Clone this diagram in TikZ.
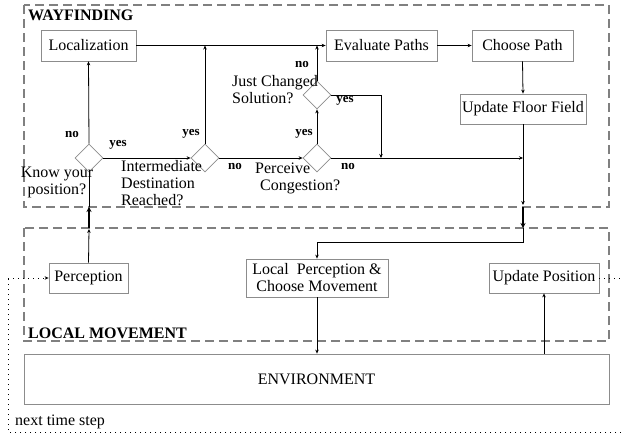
\documentclass[tikz,border=0pt]{standalone}
\usepackage{fontspec}
\setmainfont{Liberation Serif}
\usetikzlibrary{shapes.geometric,arrows.meta}
\begin{document}
\begin{tikzpicture}[x=1pt,y=-1pt,
  every node/.style={font=\fontsize{16}{17}\selectfont},
  box/.style={draw=black!45,line width=0.8pt,inner sep=0pt,align=center},
  dec/.style={diamond,draw=black!45,line width=0.8pt,inner sep=0pt,minimum width=28pt,minimum height=28pt},
  dashbox/.style={draw=black!50,line width=1.3pt,dash pattern=on 9pt off 5pt},
  arr/.style={line width=0.8pt,-{Stealth[length=4pt,width=3.5pt]}},
  thickarr/.style={line width=2.4pt,-{Stealth[length=5pt,width=5pt]}},
  plain/.style={line width=0.8pt},
  dots/.style={line width=1pt,dash pattern=on 1pt off 4pt},
  yn/.style={font=\fontsize{13}{14}\selectfont\bfseries,inner sep=0pt},
  lbl/.style={inner sep=0pt,align=left},
  title/.style={font=\fontsize{16}{17}\selectfont\bfseries,inner sep=0pt,anchor=west}]
\useasboundingbox (0,0) rectangle (621,439);
% containers
\draw[dashbox] (24,5) rectangle (609,207);
\draw[dashbox] (24,228) rectangle (609,341);
\node[title] (wf) at (28,15) {WAYFINDING};
\node[title] (lm) at (28,333) {LOCAL MOVEMENT};
% boxes
\node[box,minimum width=95pt,minimum height=31pt] (loc) at (88.5,45.5) {Localization};
\node[box,minimum width=111pt,minimum height=31pt] (eval) at (381.5,45.5) {Evaluate Paths};
\node[box,minimum width=101pt,minimum height=31pt] (choose) at (522.5,45.5) {Choose Path};
\node[box,minimum width=126pt,minimum height=30pt] (uff) at (523,109) {Update Floor Field};
\node[box,minimum width=79pt,minimum height=30pt] (perc) at (88.5,278) {Perception};
\node[box,minimum width=142pt,minimum height=38pt] (lpcm) at (317,278) {Local\ \ Perception \&\\Choose Movement};
\node[box,minimum width=110pt,minimum height=30pt] (upos) at (544,278) {Update Position};
\node[box,minimum width=585pt,minimum height=50pt] (env) at (316.5,379) {ENVIRONMENT};
% decisions
\node[dec] (know) at (89,158) {};
\node[dec] (inter) at (205,158) {};
\node[dec] (cong) at (317,158) {};
\node[dec] (just) at (317,95) {};
% decision labels
\node[lbl,align=center] (tknow) at (57,182) {Know your\\position?};
\node[lbl,anchor=west] (tinter) at (121,183) {Intermediate\\Destination\\Reached?};
\node[lbl,anchor=west] (tcong) at (255,178) {Perceive\\\hspace*{5pt}Congestion?};
\node[lbl,anchor=west] (tjust) at (232,90) {Just Changed\\Solution?};
% coordinates
\coordinate (j1) at (inter.north |- loc.east);
\coordinate (j2) at (381,158);
\coordinate (j3) at (uff.south |- cong.east);
\coordinate (r1) at (523,205);
\coordinate (r2) at (523,228);
\coordinate (r3) at (523,242);
\coordinate (l1) at (89,229);
\coordinate (l2) at (89,207);
\coordinate (d1) at (621,278);
\coordinate (d2) at (621,432);
\coordinate (d3) at (8,432);
\coordinate (d4) at (8,278);
% connectors
\draw[arr] (know.north) -- (loc.south);
\draw[arr] (know.east) -- (inter.west);
\draw[arr] (inter.north) -- (j1);
\draw[arr] (loc.east) -- (eval.west);
\draw[arr] (inter.east) -- (cong.west);
\draw[arr] (cong.north) -- (just.south);
\draw[arr] (just.north) -- (just.north |- eval.west);
\draw[arr] (just.east) -| (j2);
\draw[arr] (cong.east) -- (j3);
\draw[arr] (eval.east) -- (choose.west);
\draw[arr] (choose.south) -- (uff.north);
\draw[arr] (uff.south) -- (r1);
\draw[thickarr] (l2 -| r1) -- (r2);
\draw[arr] (r2) -- (r3) -| (lpcm.north);
\draw[arr] (perc.north) -- (l1);
\draw[thickarr] (r2 -| l1) -- (l2);
\draw[plain] (l2) -- (know.south);
\draw[arr] (lpcm.south) -- (lpcm.south |- env.north);
\draw[arr] (upos.south |- env.north) -- (upos.south);
\draw[dots] (upos.east) -- (d1);
\draw[dots] (d2) -- (d3) -- (d4);
\draw[dots,-{Stealth[length=4pt,width=3.5pt]}] (d4) -- (perc.west);
\node[inner sep=0pt,anchor=west] (nts) at (15,422) {next time step};
% yes/no labels
\node[yn] (n1) at (72,134) {no};
\node[yn] (y1) at (118,145) {yes};
\node[yn] (y2) at (191,134) {yes};
\node[yn] (n2) at (235,166) {no};
\node[yn] (y3) at (304,134) {yes};
\node[yn] (n3) at (302,64) {no};
\node[yn] (y4) at (345,101) {yes};
\node[yn] (n4) at (348,166) {no};
\end{tikzpicture}
\end{document}
